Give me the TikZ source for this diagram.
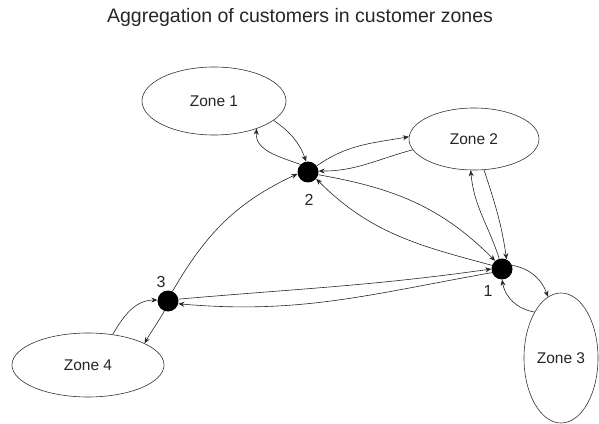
\documentclass[tikz,border=0pt]{standalone}
\usepackage{fontspec}
\setmainfont{Liberation Sans}
\usetikzlibrary{shapes.geometric,arrows.meta}
\begin{document}
\begin{tikzpicture}[x=1pt,y=1pt,
  zone/.style={draw=black!80,line width=0.6pt,ellipse,inner sep=0pt,fill=white,
    font=\fontsize{15.5}{18}\selectfont},
  hub/.style={circle,fill=black,inner sep=0pt,minimum size=21pt},
  hublabel/.style={font=\fontsize{16}{18}\selectfont,inner sep=0pt},
  flow/.style={draw=black!85,line width=0.6pt,-{Stealth[length=6pt,width=5pt]}},
  every node/.style={text=black!85}]
\useasboundingbox (0,0) rectangle (599,423);

% title
\node[font=\fontsize{19.5}{22}\selectfont] (title) at (300,406) {Aggregation of customers in customer zones};

% customer zones
\node[zone,minimum width=144pt,minimum height=68pt] (z1) at (214,322) {Zone 1};
\node[zone,minimum width=130pt,minimum height=62pt] (z2) at (474,284) {Zone 2};
\node[zone,minimum width=74pt,minimum height=130pt] (z3) at (561,65) {Zone 3};
\node[zone,minimum width=152pt,minimum height=64pt] (z4) at (88,58) {Zone 4};

% aggregation points
\node[hub] (n2) at (308,251) {};
\node[hub] (n1) at (502,154) {};
\node[hub] (n3) at (168,122) {};
\node[hublabel] (l2) at (309,223) {2};
\node[hublabel] (l1) at (488,132) {1};
\node[hublabel] (l3) at (161,141) {3};

% zone 1 <-> point 2
\draw[flow] (z1.-18) to[out=-35,in=110] (n2.100);
\draw[flow] (n2.135) to[out=160,in=-95] (z1.-33);
% point 2 <-> zone 2
\draw[flow] (n2.35) to[out=35,in=190] (z2.178);
\draw[flow] (z2.-170) to[out=195,in=0] (n2.5);
% point 2 <-> point 1
\draw[flow] (n2.-15) to[out=-10,in=135] (n1.130);
\draw[flow] (n1.160) to[out=165,in=-45] (n2.-40);
% zone 2 <-> point 1
\draw[flow] (z2.-72) to[out=-72,in=98] (n1.65);
\draw[flow] (n1.105) to[out=108,in=-85] (z2.-96);
% point 3 -> point 2
\draw[flow] (n3.65) to[out=60,in=205] (n2.190);
% point 3 <-> point 1
\draw[flow] (n3.10) to[out=5,in=188] (n1.180);
\draw[flow] (n1.200) to[out=190,in=-5] (n3.-15);
% zone 4 <-> point 3
\draw[flow] (z4.51) to[out=60,in=180] (n3.175);
\draw[flow] (n3.-110) to[out=240,in=60] (z4.21);
% point 1 <-> zone 3
\draw[flow] (n1.20) to[out=-10,in=110] (z3.102);
\draw[flow] (z3.120) to[out=170,in=-80] (n1.-90);
\end{tikzpicture}
\end{document}
